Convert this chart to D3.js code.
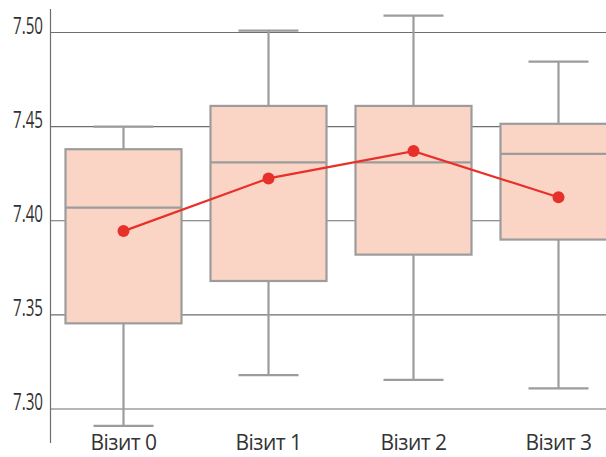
<!DOCTYPE html>
<html><head><meta charset="utf-8">
<script src="https://cdn.jsdelivr.net/npm/d3@7"></script>
<style>body{margin:0;background:#fff}svg{display:block}</style>
</head><body>
<svg id="c" width="606" height="457"></svg>
<script>
const categories = ["Візит 0", "Візит 1", "Візит 2", "Візит 3"];
const whiskerLow = [7.291, 7.318, 7.3155, 7.311];
const q1 = [7.3455, 7.368, 7.382, 7.390];
const median = [7.407, 7.431, 7.431, 7.4355];
const q3 = [7.438, 7.461, 7.461, 7.4515];
const whiskerHigh = [7.450, 7.501, 7.509, 7.4845];
const means = [7.3945, 7.4225, 7.437, 7.4125];
const yTicks = [7.30, 7.35, 7.40, 7.45, 7.50];

const svg = d3.select("#c");
const x = d3.scaleBand().domain(categories).range([51, 631]).paddingInner(0.2).paddingOuter(0.1);
const y = d3.scaleLinear().domain([7.30, 7.50]).range([409, 32.5]);

const grey = "#9c9c9c";
// gridlines
svg.append("g").selectAll("line").data(yTicks).join("line")
  .attr("x1", 50).attr("x2", 606)
  .attr("y1", d => y(d)).attr("y2", d => y(d))
  .attr("stroke", "#6e6e6e").attr("stroke-width", 1.2);
// axis line
svg.append("line").attr("x1", 50.5).attr("x2", 50.5).attr("y1", 9).attr("y2", 443)
  .attr("stroke", "#6e6e6e").attr("stroke-width", 1.2);
// tick labels
svg.append("g").selectAll("text").data(yTicks).join("text")
  .attr("x", 43).attr("y", d => y(d) + 1)
  .attr("text-anchor", "end")
  .attr("font-family", "'Liberation Sans Narrow', 'Open Sans', sans-serif")
  .attr("font-size", 23)
  .attr("textLength", 30).attr("lengthAdjust", "spacingAndGlyphs")
  .attr("fill", "#333")
  .text(d => d.toFixed(2));

const bw = x.bandwidth();
const cx = d => x(d) + bw / 2;
const capW = 60;
const idx = categories.map((c, i) => i);
const g = svg.append("g");
// whiskers
g.selectAll(".wl").data(idx).join("line")
  .attr("x1", i => cx(categories[i])).attr("x2", i => cx(categories[i]))
  .attr("y1", i => y(whiskerHigh[i])).attr("y2", i => y(whiskerLow[i]))
  .attr("stroke", grey).attr("stroke-width", 2.2);
g.selectAll(".ct").data(idx).join("line")
  .attr("x1", i => cx(categories[i]) - capW / 2).attr("x2", i => cx(categories[i]) + capW / 2)
  .attr("y1", i => y(whiskerHigh[i])).attr("y2", i => y(whiskerHigh[i]))
  .attr("stroke", grey).attr("stroke-width", 2.2);
g.selectAll(".cb").data(idx).join("line")
  .attr("x1", i => cx(categories[i]) - capW / 2).attr("x2", i => cx(categories[i]) + capW / 2)
  .attr("y1", i => y(whiskerLow[i])).attr("y2", i => y(whiskerLow[i]))
  .attr("stroke", grey).attr("stroke-width", 2.2);
// boxes
g.selectAll("rect").data(idx).join("rect")
  .attr("x", i => x(categories[i])).attr("width", bw)
  .attr("y", i => y(q3[i])).attr("height", i => y(q1[i]) - y(q3[i]))
  .attr("fill", "#fad5c5").attr("stroke", grey).attr("stroke-width", 2.2);
g.selectAll(".md").data(idx).join("line")
  .attr("x1", i => x(categories[i])).attr("x2", i => x(categories[i]) + bw)
  .attr("y1", i => y(median[i])).attr("y2", i => y(median[i]))
  .attr("stroke", grey).attr("stroke-width", 2.2);
// mean line
const red = "#e8302a";
svg.append("path").datum(idx)
  .attr("d", d3.line().x(i => cx(categories[i])).y(i => y(means[i])))
  .attr("fill", "none").attr("stroke", red).attr("stroke-width", 2.2);
svg.append("g").selectAll("circle").data(idx).join("circle")
  .attr("cx", i => cx(categories[i])).attr("cy", i => y(means[i])).attr("r", 6)
  .attr("fill", red);
// x labels
svg.append("g").selectAll("text").data(categories).join("text")
  .attr("x", d => cx(d)).attr("y", 450)
  .attr("text-anchor", "middle")
  .attr("font-family", "'Open Sans', sans-serif")
  .attr("font-size", 21).attr("letter-spacing", -0.5)
  .attr("fill", "#333")
  .text(d => d);
</script>
</body></html>
